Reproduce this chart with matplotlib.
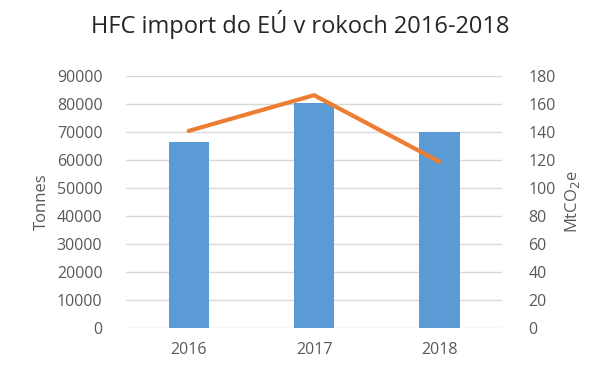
import matplotlib.pyplot as plt
import numpy as np

# data
years = ["2016", "2017", "2018"]
tonnes = [66300, 80300, 69700]
mtco2e = [140.5, 166, 118.5]

plt.rcParams['font.family'] = ['Open Sans', 'DejaVu Sans']
grey = "#595959"

fig = plt.figure(figsize=(6, 3.76), dpi=100)
ax = fig.add_axes([0.21, 0.1285, 0.627, 0.6705])
x = np.arange(len(years))

ax.bar(x, tonnes, width=0.32, color="#5B9BD5", zorder=2)
ax.set_ylim(0, 90000)
ax.set_yticks(np.arange(0, 90001, 10000))
ax.set_xlim(-0.5, 2.5)
ax.set_xticks(x)
ax.set_xticklabels(years)
ax.grid(axis="y", color="#D9D9D9", linewidth=1, zorder=0)
for s in ax.spines.values():
    s.set_visible(False)
ax.tick_params(length=0, colors=grey, labelsize=11.5)
ax.tick_params(axis="x", pad=10)
ax.tick_params(axis="y", pad=17)
ax.set_ylabel("Tonnes", color=grey, fontsize=12, labelpad=5)

ax2 = ax.twinx()
ax2.plot(x, mtco2e, color="#ED7D31", linewidth=3, solid_capstyle="round", zorder=3)
ax2.set_ylim(0, 180)
ax2.set_yticks(np.arange(0, 181, 20))
for s in ax2.spines.values():
    s.set_visible(False)
ax2.tick_params(length=0, colors=grey, labelsize=11.5, pad=19)
ax2.set_ylabel("MtCO$_2$e", color=grey, fontsize=12, labelpad=5)

fig.text(0.5, 0.935, "HFC import do EÚ v rokoch 2016-2018", ha="center", va="center",
         fontsize=17, color="#262626")

fig.savefig("out.png", dpi=100)
